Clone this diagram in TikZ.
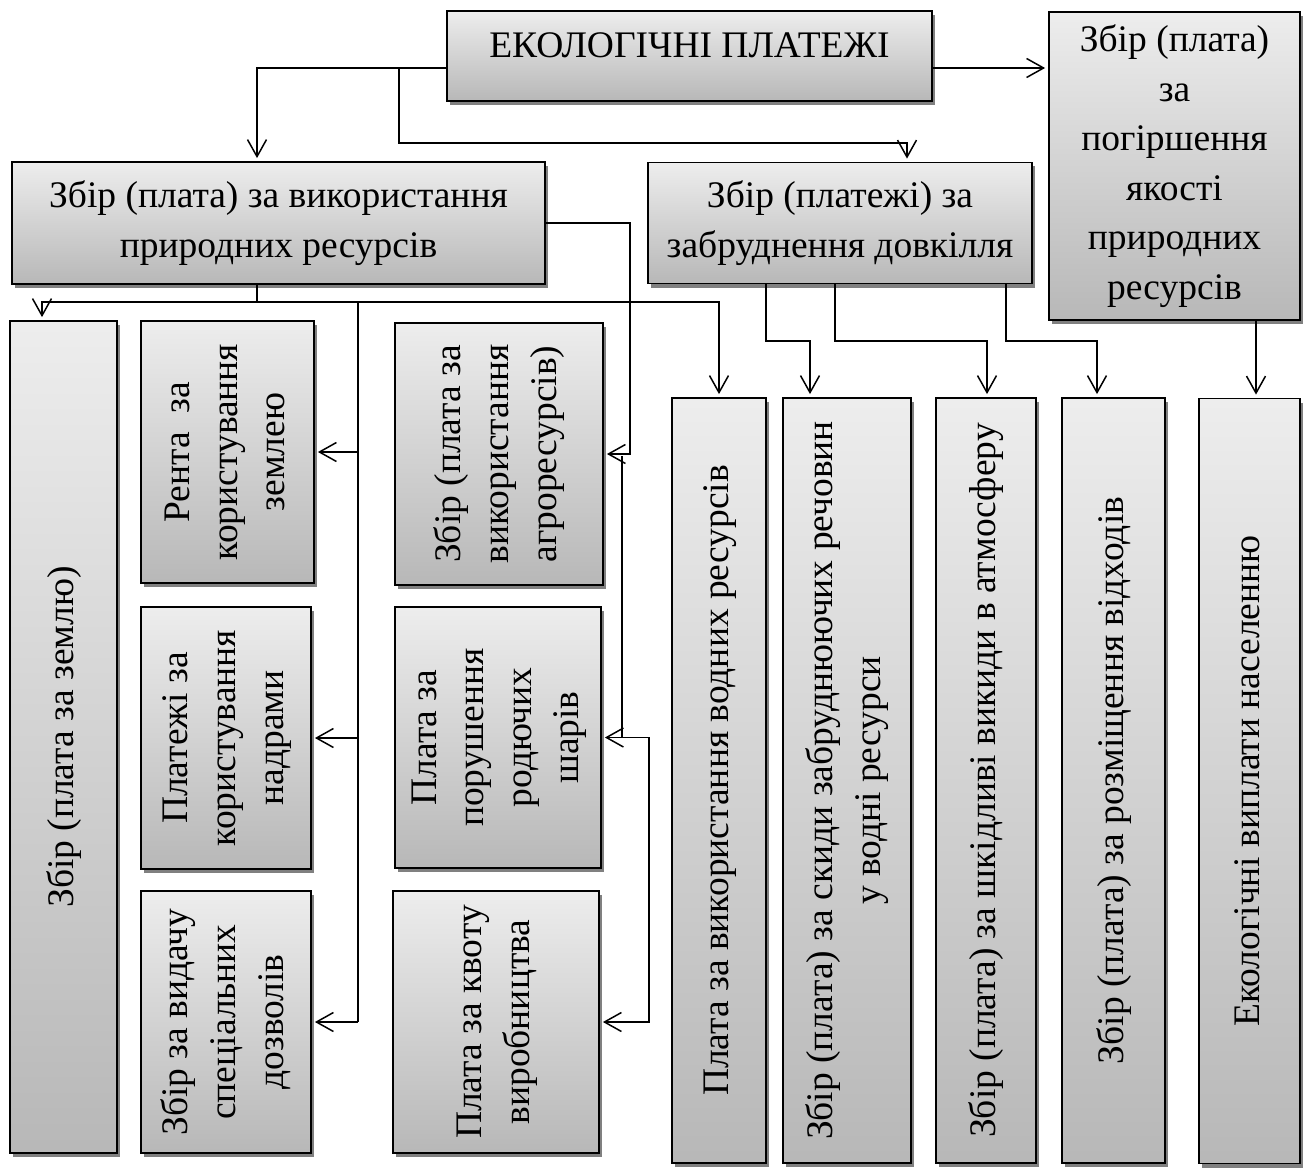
\documentclass[tikz,border=0pt]{standalone}
\usepackage{fontspec}
\setmainfont{Liberation Serif}
\usepackage{graphicx}
\usetikzlibrary{arrows.meta,shadows}

% rotated, centred multi-line label (reads bottom to top)
\newcommand\vtxt[1]{\rotatebox{90}{\renewcommand\arraystretch{0.96}\begin{tabular}{@{}c@{}}#1\end{tabular}}}

\begin{document}
\begin{tikzpicture}[x=1pt,y=-1pt,
  box/.style={draw=black, line width=1.8pt, top color=black!7, bottom color=black!28,
    inner sep=0pt, align=center, font=\fontsize{37.5}{49.5}\selectfont,
    drop shadow={shadow xshift=3pt, shadow yshift=-4pt, fill=black!50, opacity=1}},
  link/.style={line width=1.5pt},
  arr/.style={link, -{Straight Barb[length=17pt,width=19pt]}, shorten >=3pt},
]
\useasboundingbox (0,0) rectangle (1305,1169);

% upper level
\node[box, minimum width=485pt, minimum height=90pt] (top) at (689.5,56)
  {\raisebox{-2pt}[0pt][0pt]{ЕКОЛОГІЧНІ ПЛАТЕЖІ}};
\node[box, minimum width=251pt, minimum height=308pt] (qual) at (1174.5,166)
  {Збір (плата)\\за\\погіршення\\якості\\природних\\ресурсів};
\node[box, minimum width=533pt, minimum height=122pt] (use) at (278.5,223)
  {Збір (плата) за використання\\природних ресурсів};
\node[box, minimum width=384pt, minimum height=121pt] (poll) at (840,223)
  {Збір (платежі) за\\забруднення довкілля};

% payments for natural resources
\node[box, minimum width=107pt, minimum height=832pt] (land) at (63.5,737)
  {\vtxt{Збір (плата за землю)}};
\node[box, minimum width=173pt, minimum height=262pt] (rent) at (227.5,452)
  {\vtxt{Рента~ за\\користування\\землею}};
\node[box, minimum width=170pt, minimum height=262pt] (subsoil) at (226,738)
  {\vtxt{Платежі за\\користування\\надрами}};
\node[box, minimum width=170pt, minimum height=262pt] (permit) at (226,1022)
  {\vtxt{Збір за видачу\\спеціальних\\дозволів}};
\node[box, minimum width=208pt, minimum height=262pt] (agro) at (499,454)
  {\vtxt{Збір (плата за\\використання\\агроресурсів)}};
\node[box, minimum width=206pt, minimum height=261pt] (soil) at (498,737.5)
  {\vtxt{Плата за\\порушення\\родючих\\шарів}};
\node[box, minimum width=206pt, minimum height=262pt] (quota) at (496,1022)
  {\vtxt{Плата за квоту\\виробництва}};

% pollution payments and compensation
\node[box, minimum width=94pt, minimum height=765pt] (water) at (719,780.5)
  {\vtxt{Плата за використання водних ресурсів}};
\node[box, minimum width=128pt, minimum height=765pt] (discharge) at (847,780.5)
  {\vtxt{Збір (плата) за скиди забруднюючих речовин\\у водні ресурси}};
\node[box, minimum width=100pt, minimum height=765pt] (air) at (986,780.5)
  {\vtxt{Збір (плата) за шкідливі викиди в атмосферу}};
\node[box, minimum width=103pt, minimum height=765pt] (waste) at (1113.5,780.5)
  {\vtxt{Збір (плата) за розміщення відходів}};
\node[box, minimum width=101pt, minimum height=765pt] (payout) at (1249.5,781)
  {\vtxt{Екологічні виплати населенню}};

% connectors from the root
\coordinate (fork) at (399,68);
\draw[arr] (top.west |- 0,68) -| (use.north -| 257,0);
\draw[arr] (fork) |- (907,143) -- (poll.north -| 907,0);
\draw[arr] (top.east |- 0,68) -- (qual.west |- 0,68);

% resource-use branch
\coordinate (hub) at (257,302);
\draw[link] (use.south -| hub) -- (hub);
\draw[arr] (hub) -| (land.north -| 42,0);
\draw[arr] (hub) -| (water.north);
\draw[link] (358,302) -- (358,1022);
\draw[arr] (rent.east -| 358,0) -- (rent.east);
\draw[arr] (subsoil.east -| 358,0) -- (subsoil.east);
\draw[arr] (permit.east -| 358,0) -- (permit.east);
\draw[arr] (use.east) -| (agro.east -| 630,0) -- (agro.east);
\draw[arr] (622,456) |- (soil.east);
\draw[arr] (soil.east -| 622,0) -| (quota.east -| 649,0) -- (quota.east);

% pollution branch
\draw[arr] (poll.south -| 766,0) |- (810,341) -- (discharge.north -| 810,0);
\draw[arr] (poll.south -| 835,0) |- (987,341) -- (air.north -| 987,0);
\draw[arr] (poll.south -| 1006,0) |- (1097,341) -- (waste.north -| 1097,0);
\draw[arr] (qual.south -| 1256,0) -- (payout.north -| 1256,0);
\end{tikzpicture}
\end{document}
